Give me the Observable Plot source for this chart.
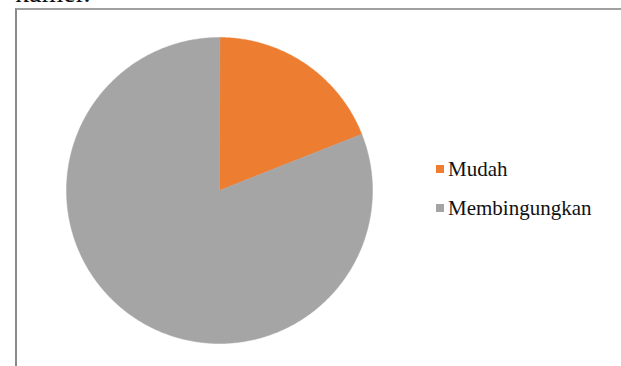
<!DOCTYPE html>
<html>
<head>
<meta charset="utf-8">
<script src="https://cdn.jsdelivr.net/npm/d3@7"></script>
<script src="https://cdn.jsdelivr.net/npm/@observablehq/plot@0.6"></script>
<style>
  html, body { margin: 0; padding: 0; background: #fff; }
  #wrap { position: relative; width: 621px; height: 366px; overflow: hidden; font-family: "Liberation Serif", "Times New Roman", serif; }
  #frame { position: absolute; left: 15px; top: 8px; width: 620px; height: 400px; border-left: 2px solid #8a8a8a; border-top: 2px solid #a0a0a0; box-sizing: border-box; }
  #cut { position: absolute; left: 15px; top: -23px; font-size: 28px; color: #111; }
  #chart { position: absolute; left: 0; top: 0; }
  #legend { position: absolute; left: 436px; top: 150px; font-size: 21px; color: #111; }
  .row { display: flex; align-items: center; height: 39px; }
  .sw { width: 8px; height: 8px; margin-right: 4px; margin-top: -2px; }
</style>
</head>
<body>
<div id="wrap">
  <div id="cut">kamer.</div>
  <div id="frame"></div>
  <div id="chart"></div>
  <div id="legend"></div>
</div>
<script>
const categories = ["Mudah", "Membingungkan"];
const values = [19, 81];
const colors = ["#ED7D31", "#A5A5A5"];

// build slice outlines from values (angles clockwise from 12 o'clock)
const total = d3.sum(values);
const pts = [];
let start = 0;
categories.forEach((c, i) => {
  const a0 = start / total * 2 * Math.PI;
  const a1 = (start + values[i]) / total * 2 * Math.PI;
  pts.push({cat: c, x: 0, y: 0});
  const n = Math.max(2, Math.ceil((a1 - a0) / (Math.PI / 360)));
  for (let k = 0; k <= n; k++) {
    const a = a0 + (a1 - a0) * k / n;
    pts.push({cat: c, x: Math.sin(a), y: Math.cos(a)});
  }
  start += values[i];
});

const plot = Plot.plot({
  width: 621,
  height: 366,
  margin: 0,
  x: {domain: [-1, 1], range: [66, 372], axis: null},
  y: {domain: [-1, 1], range: [343, 37], axis: null},
  color: {domain: categories, range: colors},
  marks: [
    Plot.line(pts, {x: "x", y: "y", z: "cat", fill: "cat", stroke: "cat", strokeWidth: 0.5, curve: "linear-closed"})
  ]
});
plot.style.background = "transparent";
document.getElementById("chart").appendChild(plot);

const leg = document.getElementById("legend");
categories.forEach((c, i) => {
  const row = document.createElement("div");
  row.className = "row";
  const sw = document.createElement("div");
  sw.className = "sw";
  sw.style.background = colors[i];
  const t = document.createElement("span");
  t.textContent = c;
  row.appendChild(sw);
  row.appendChild(t);
  leg.appendChild(row);
});
</script>
</body>
</html>
